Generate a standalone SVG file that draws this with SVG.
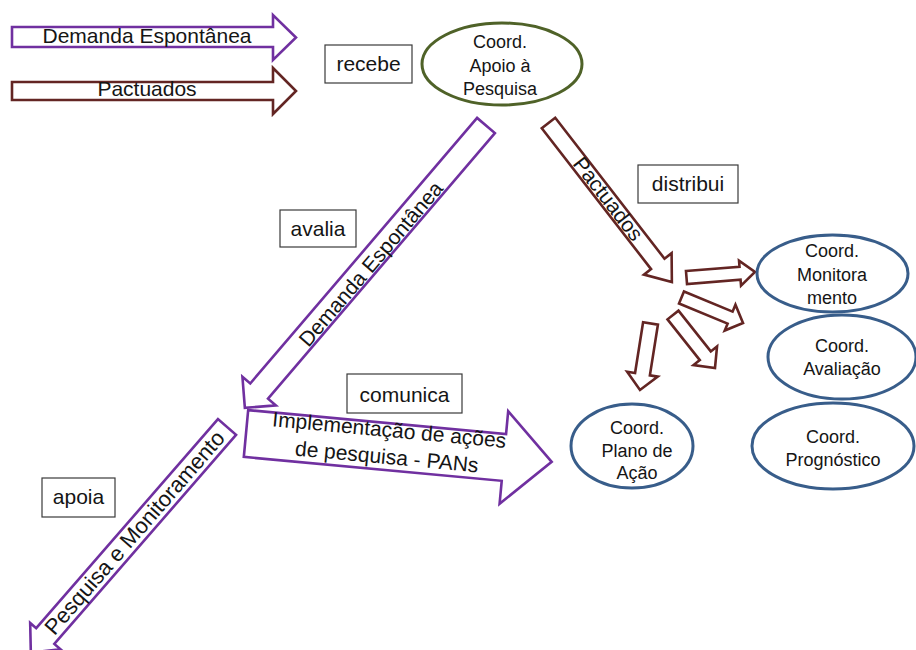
<svg xmlns="http://www.w3.org/2000/svg" width="916" height="650" viewBox="0 0 916 650">
<style>
text{font-family:"Liberation Sans",Arial,sans-serif;fill:#151515;}
.lbl{font-size:21px;text-anchor:middle;}
.el{font-size:18px;text-anchor:middle;}
.box{fill:#fff;stroke:#3a3a3a;stroke-width:1.2;}
.pur{fill:#fff;stroke:#7030A0;stroke-width:2.6;stroke-linejoin:miter;}
.bro{fill:#fff;stroke:#632523;stroke-width:2.6;stroke-linejoin:miter;}
.grn{fill:#fff;stroke:#4F6228;stroke-width:3;}
.blu{fill:#fff;stroke:#385D8A;stroke-width:3;}
</style>
<rect width="916" height="650" fill="#fff"/>

<g id="connectors">
  <g id="in-demanda">
    <path class="pur" d="M12,27 H273 V15 L296,37.5 L273,60 V47 H12 Z"/>
    <text class="lbl" x="147" y="43">Demanda Espontânea</text>
  </g>
  <g id="in-pactuados">
    <path class="bro" d="M12,82 H273 V68 L296,91 L273,114 V100 H12 Z"/>
    <text class="lbl" x="147" y="96">Pactuados</text>
  </g>
  <g id="e-demanda">
    <path class="pur" transform="translate(486,125.5) rotate(130.5)" d="M0,-11.7 H349.3 V-22 L371.3,0 L349.3,22 V11.7 H0 Z"/>
    <text class="lbl" transform="translate(371,264) rotate(-49.5)" x="0" y="7">Demanda Espontânea</text>
  </g>
  <g id="e-pactuados">
    <path class="bro" transform="translate(548.5,123) rotate(52.2)" d="M0,-8.5 H178.3 V-17.5 L201.3,0 L178.3,17.5 V8.5 H0 Z"/>
    <text class="lbl" transform="translate(608,199) rotate(52.2)" x="0" y="7">Pactuados</text>
  </g>
  <g id="e-monitoramento">
    <path class="bro" transform="translate(686.5,277.5) rotate(-4.6)" d="M0,-6.5 H53.7 V-12.5 L68.7,0 L53.7,12.5 V6.5 H0 Z"/>
  </g>
  <g id="e-avaliacao">
    <path class="bro" transform="translate(681.5,297.5) rotate(22.5)" d="M0,-6.5 H52.6 V-14 L66.6,0 L52.6,14 V6.5 H0 Z"/>
  </g>
  <g id="e-prognostico">
    <path class="bro" transform="translate(673,315) rotate(51.6)" d="M0,-7 H52 V-15 L67.6,0 L52,15 V7 H0 Z"/>
  </g>
  <g id="e-plano">
    <path class="bro" transform="translate(650.5,323.5) rotate(99)" d="M0,-7.5 H51.3 V-15.5 L67.3,0 L51.3,15.5 V7.5 H0 Z"/>
  </g>
  <g id="e-implementacao">
    <path class="pur" transform="translate(246,433.5) rotate(5.3)" d="M0,-23.5 H259 V-46.5 L307,0 L259,46.5 V23.5 H0 Z"/>
    <g transform="translate(388,444) rotate(5.3)">
      <text class="lbl" x="0" y="-7">Implementação de ações</text>
      <text class="lbl" x="0" y="20">de pesquisa - PANs</text>
    </g>
  </g>
  <g id="e-pesquisa">
    <path class="pur" transform="translate(227,427) rotate(131)" d="M0,-12 H277 V-20 L299,0 L277,20 V12 H0 Z"/>
    <text class="lbl" style="font-size:22px" transform="translate(135,533) rotate(-49)" x="0" y="7">Pesquisa e Monitoramento</text>
  </g>
</g>

<g id="lbl-recebe">
  <rect class="box" x="325" y="45" width="87" height="38"/>
  <text class="lbl" x="368.5" y="71">recebe</text>
</g>
<g id="lbl-distribui">
  <rect class="box" x="638" y="165" width="100" height="38"/>
  <text class="lbl" x="688" y="191">distribui</text>
</g>
<g id="lbl-avalia">
  <rect class="box" x="280" y="210" width="76" height="37"/>
  <text class="lbl" x="318" y="236">avalia</text>
</g>
<g id="lbl-comunica">
  <rect class="box" x="347" y="374" width="115" height="39"/>
  <text class="lbl" x="404.5" y="402">comunica</text>
</g>
<g id="lbl-apoia">
  <rect class="box" x="42" y="478" width="73" height="39"/>
  <text class="lbl" x="78.5" y="504">apoia</text>
</g>

<g id="n-apoio">
  <ellipse class="grn" cx="502" cy="64" rx="80" ry="41"/>
  <text class="el" x="500" y="48">Coord.</text>
  <text class="el" x="500" y="72">Apoio à</text>
  <text class="el" x="500" y="95">Pesquisa</text>
</g>
<g id="n-monitoramento">
  <ellipse class="blu" cx="832.5" cy="273.5" rx="75.5" ry="38.5"/>
  <text class="el" x="832" y="257">Coord.</text>
  <text class="el" x="832" y="281">Monitora</text>
  <text class="el" x="832" y="304">mento</text>
</g>
<g id="n-avaliacao">
  <ellipse class="blu" cx="842" cy="357" rx="74" ry="42"/>
  <text class="el" x="842" y="352">Coord.</text>
  <text class="el" x="842" y="375">Avaliação</text>
</g>
<g id="n-plano">
  <ellipse class="blu" cx="632" cy="446" rx="61" ry="42"/>
  <text class="el" x="637" y="434">Coord.</text>
  <text class="el" x="637" y="457">Plano de</text>
  <text class="el" x="637" y="479">Ação</text>
</g>
<g id="n-prognostico">
  <ellipse class="blu" cx="833" cy="446" rx="81" ry="43"/>
  <text class="el" x="833" y="443">Coord.</text>
  <text class="el" x="833" y="466">Prognóstico</text>
</g>
</svg>
